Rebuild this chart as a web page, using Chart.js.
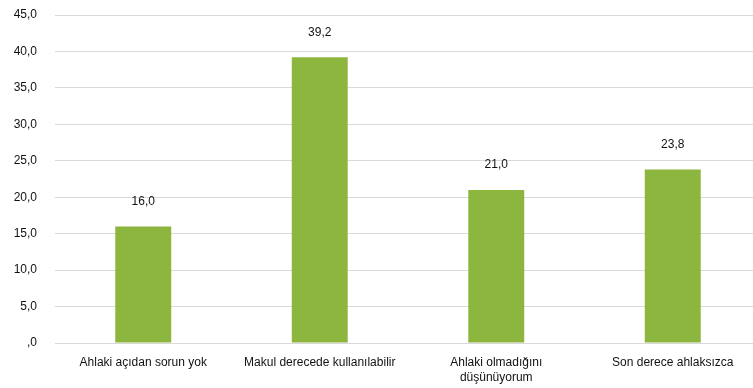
<!DOCTYPE html>
<html>
<head>
<meta charset="utf-8">
<script src="https://cdn.jsdelivr.net/npm/chart.js@4/dist/chart.umd.min.js"></script>
<style>
  html, body { margin: 0; padding: 0; background: #ffffff; overflow: hidden; }
  #frame { width: 753px; height: 388px; overflow: hidden; position: relative; }
  #wrap { width: 764px; height: 388px; position: absolute; left: 0; top: 0; }
</style>
</head>
<body>
<div id="frame"><div id="wrap"><canvas id="c"></canvas></div></div>
<script>
const categories = [
  'Ahlaki açıdan sorun yok',
  'Makul derecede kullanılabilir',
  ['Ahlaki olmadığını', 'düşünüyorum'],
  'Son derece ahlaksızca'
];
const values = [16.0, 39.2, 21.0, 23.8];
const yTicks = [0, 5, 10, 15, 20, 25, 30, 35, 40, 45];

const FONT = '"Liberation Sans", Arial, sans-serif';

// Turkish-style number: comma decimal, zero shown as ",0"
function fmt(v) {
  if (v === 0) return ',0';
  return v.toFixed(1).replace('.', ',');
}

// Value label above each bar
const barLabels = {
  id: 'barLabels',
  afterDatasetsDraw(chart) {
    const ctx = chart.ctx;
    const meta = chart.getDatasetMeta(0);
    ctx.save();
    ctx.font = '12px ' + FONT;
    ctx.fillStyle = '#111111';
    ctx.textAlign = 'center';
    ctx.textBaseline = 'middle';
    meta.data.forEach((bar, i) => {
      ctx.fillText(fmt(values[i]), bar.x, bar.y - 25);
    });
    ctx.restore();
  }
};

new Chart(document.getElementById('c'), {
  type: 'bar',
  data: {
    labels: categories,
    datasets: [{
      data: values,
      backgroundColor: '#8db63f',
      categoryPercentage: 1.0,
      barPercentage: 0.317
    }]
  },
  options: {
    responsive: true,
    maintainAspectRatio: false,
    animation: false,
    layout: { padding: { top: 15, right: 3, left: 4, bottom: 0 } },
    plugins: { legend: { display: false }, tooltip: { enabled: false } },
    scales: {
      x: {
        afterFit(axis) { axis.height = 45; axis.paddingLeft = 0; axis.paddingRight = 0; },
        grid: { display: false, drawTicks: false },
        border: { color: '#d9d9d9', width: 1 },
        ticks: {
          color: '#111111',
          font: { family: FONT, size: 12, lineHeight: 1.25 },
          padding: 12,
          maxRotation: 0,
          autoSkip: false
        }
      },
      y: {
        min: 0,
        max: 45,
        afterBuildTicks(axis) { axis.ticks = yTicks.map(v => ({ value: v })); },
        afterFit(axis) { axis.width = 51; axis.paddingTop = 0; axis.paddingBottom = 0; },
        grid: { color: '#d9d9d9', drawTicks: false },
        border: { display: false },
        ticks: {
          color: '#111111',
          font: { family: FONT, size: 12 },
          padding: 18,
          callback: v => fmt(v)
        }
      }
    }
  },
  plugins: [barLabels]
});
</script>
</body>
</html>
